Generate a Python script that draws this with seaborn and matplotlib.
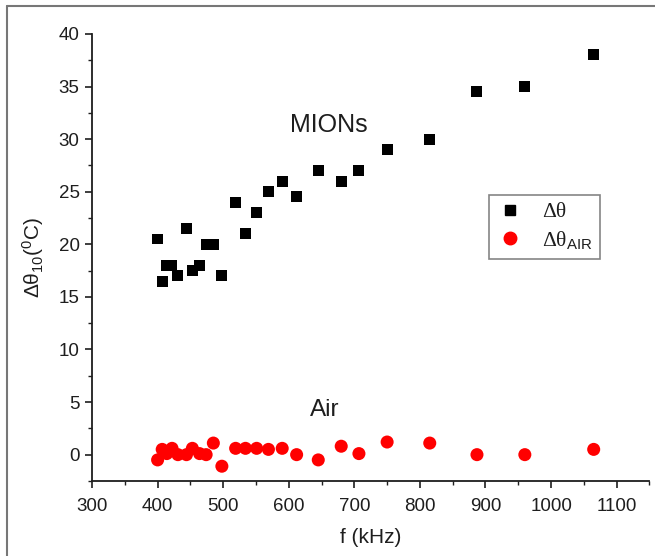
import numpy as np
import pandas as pd
import matplotlib
matplotlib.use("Agg")
import matplotlib.pyplot as plt
from matplotlib.ticker import MultipleLocator
from matplotlib.font_manager import FontProperties
from matplotlib.lines import Line2D
import seaborn as sns

# Excitation frequency (kHz)
freq_khz = [400, 407, 414, 422, 431, 444, 453, 464, 474, 485, 498, 519, 534,
            551, 569, 590, 612, 645, 680, 707, 750, 815, 887, 960, 1065]
# Temperature rise after 10 s: nanoparticle suspension
dtheta_mions = [20.5, 16.5, 18.0, 18.0, 17.0, 21.5, 17.5, 18.0, 20.0, 20.0, 17.0,
                24.0, 21.0, 23.0, 25.0, 26.0, 24.5, 27.0, 26.0, 27.0, 29.0, 30.0,
                34.5, 35.0, 38.0]
# Temperature rise after 10 s: air (empty coil)
dtheta_air = [-0.5, 0.5, 0.1, 0.6, 0.0, 0.0, 0.6, 0.1, 0.0, 1.1, -1.1, 0.6, 0.6,
              0.6, 0.5, 0.6, 0.0, -0.5, 0.8, 0.1, 1.2, 1.1, 0.0, 0.0, 0.5]

x_ticks = [300, 400, 500, 600, 700, 800, 900, 1000, 1100]
y_ticks = [0, 5, 10, 15, 20, 25, 30, 35, 40]

df = pd.DataFrame({"f": freq_khz, "mions": dtheta_mions, "air": dtheta_air})

sns.set_theme(style="ticks")
plt.rcParams["font.family"] = ["Liberation Sans", "DejaVu Sans"]
plt.rcParams["mathtext.fontset"] = "custom"
plt.rcParams["mathtext.rm"] = "Liberation Sans"
plt.rcParams["mathtext.it"] = "Liberation Sans"
plt.rcParams["mathtext.sf"] = "Liberation Sans"

text_color = "#1e1e1e"

fig = plt.figure(figsize=(6.55, 5.56), dpi=100)
ax = fig.add_axes([0.1405, 0.135, 0.851, 0.804])

sns.scatterplot(data=df, x="f", y="mions", marker="s", s=62, color="black",
                edgecolor="none", ax=ax)
sns.scatterplot(data=df, x="f", y="air", marker="o", s=88, color="#ff0000",
                edgecolor="none", ax=ax)

ax.set_xlim(300, 1150)
ax.set_ylim(-2.5, 40)
ax.set_xticks(x_ticks)
ax.set_yticks(y_ticks)
ax.xaxis.set_minor_locator(MultipleLocator(50))
ax.yaxis.set_minor_locator(MultipleLocator(2.5))
ax.tick_params(which="major", direction="out", length=5, width=1.2,
               labelsize=13.5, colors=text_color)
ax.tick_params(axis="x", which="major", pad=7)
ax.tick_params(axis="y", which="major", pad=4)
ax.tick_params(which="minor", direction="out", length=3, width=1.0,
               colors=text_color)

for side in ("top", "right"):
    ax.spines[side].set_visible(False)
for side in ("left", "bottom"):
    ax.spines[side].set_linewidth(1.3)
    ax.spines[side].set_color(text_color)

ax.set_xlabel("f (kHz)", fontsize=15, color=text_color, labelpad=10)
ax.set_ylabel(r"$\Delta\theta_{10}(^{0}$C)", fontsize=15, color=text_color,
              labelpad=9)

ax.text(661, 31.3, "MIONs", fontsize=18, color=text_color, ha="center",
        va="center")
ax.text(655, 4.2, "Air", fontsize=17.5, color=text_color, ha="center",
        va="center")

legend_font = FontProperties(family="Liberation Serif", size=15.5)
handles = [
    Line2D([], [], marker="s", linestyle="none", color="black",
           markersize=7.5),
    Line2D([], [], marker="o", linestyle="none", color="#ff0000",
           markersize=9),
]
labels = ["Δθ", r"Δθ$_{\mathsf{AIR}}$"]
leg = ax.legend(handles, labels, loc="upper left",
                bbox_to_anchor=(0.713, 0.64), prop=legend_font,
                frameon=True, fancybox=False, edgecolor="#666666",
                borderpad=0.35, handlelength=1.2, handletextpad=0.9,
                labelspacing=0.3, borderaxespad=0)
leg.get_frame().set_linewidth(1.2)
for t in leg.get_texts():
    t.set_color(text_color)

# thin grey frame along the top and left edges of the figure
fig.add_artist(Line2D([0.0107, 0.0107], [0.0, 0.99], color="#777777",
                      linewidth=1.5, transform=fig.transFigure))
fig.add_artist(Line2D([0.0107, 1.0], [0.99, 0.99], color="#777777",
                      linewidth=1.5, transform=fig.transFigure))

fig.savefig("out.png", dpi=100)
